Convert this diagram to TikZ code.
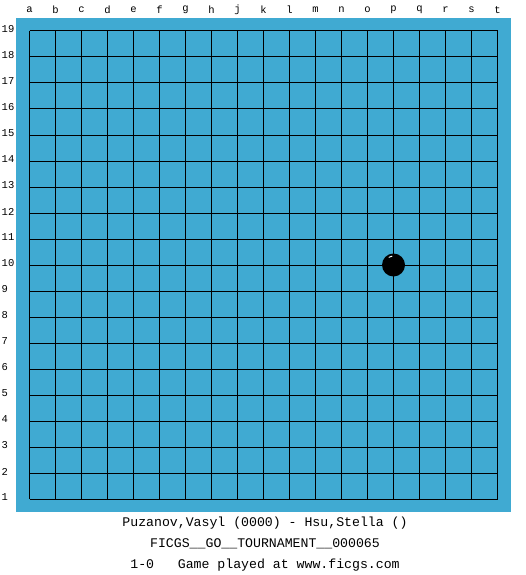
\documentclass[tikz,border=0pt]{standalone}
\usepackage{fontspec}
\setmonofont{Liberation Mono}
\usetikzlibrary{positioning}
\definecolor{boardblue}{RGB}{64,170,210}

\tikzset{
	board/.style={fill=boardblue, draw=none},
	gridline/.style={draw=black, line width=1pt},
	collabel/.style={font=\ttfamily\fontsize{10.5}{11}\selectfont, inner sep=0pt},
	rowlabel/.style={font=\ttfamily\fontsize{10.5}{11}\selectfont, inner sep=0pt, anchor=west},
	stone/.style={circle, fill=black, minimum size=23pt, inner sep=0pt},
	caption/.style={font=\ttfamily\fontsize{13.2}{15}\selectfont, inner sep=0pt}
}

\begin{document}
\begin{tikzpicture}[x=1pt,y=-1pt]
				\useasboundingbox (0,0) rectangle (525,575);
				\fill[board] (16,18) rectangle (511,512);
				% grid lines
				\foreach \i in {0,...,18} {
						\draw[gridline] (29.5+26*\i,31) -- (29.5+26*\i,499);
						\draw[gridline] (29.5,31+26*\i) -- (497.5,31+26*\i);
				}
				% coordinates round the board
				\foreach \l [count=\i from 0] in {a,b,c,d,e,f,g,h,j,k,l,m,n,o,p,q,r,s,t}
						\node[collabel] (col-\l) at (29.5+26*\i,10) {\l};
				\foreach \r in {1,...,19}
						\node[rowlabel] (row-\r) at (1.5,29.5+26*19-26*\r) {\r};
				% the one stone
				\node[stone] (p10) at (393.5,265) {};
				\draw[white, line width=0.9pt] ([shift={(-122:9)}]p10.center) arc[start angle=-122, end angle=-98, radius=9];
				% game info
				\node[caption] (players) at (265,523.5) {Puzanov,Vasyl (0000) - Hsu,Stella ()};
				\node[caption, below=9pt of players.south] (event) {FICGS\_\_GO\_\_TOURNAMENT\_\_000065};
				\node[caption, below=9pt of event.south] (result) {1-0\ \ \ Game played at www.ficgs.com};
			\end{tikzpicture}
\end{document}
